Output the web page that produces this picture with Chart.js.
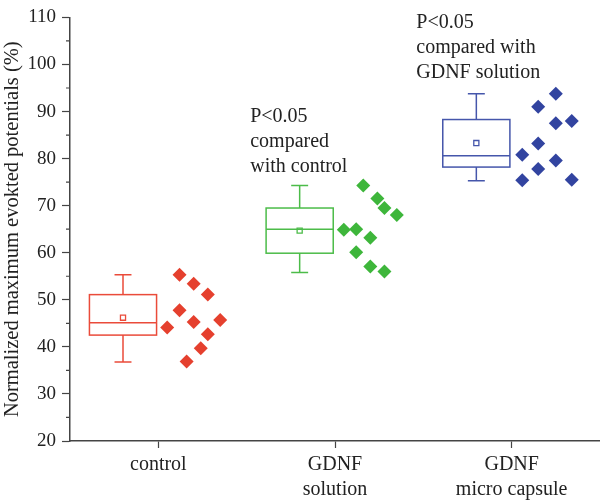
<!DOCTYPE html>
<html>
<head>
<meta charset="utf-8">
<script src="https://cdn.jsdelivr.net/npm/chart.js@4.4.0/dist/chart.umd.min.js"></script>
<style>
  html, body { margin: 0; padding: 0; background: #fff; }
  #wrap { width: 600px; height: 502px; }
</style>
</head>
<body>
<div id="wrap"><canvas id="chart"></canvas></div>
<script>
// group names (x axis)
const groupLabels = [['control'], ['GDNF', 'solution'], ['GDNF', 'micro capsule']];
const groupColors = ['#e5402e', '#3eb63b', '#3244a0'];
const boxColors = ['#ea4b3a', '#4cbc49', '#4556ab'];

// y ticks
const yMin = 20;
const yMax = 110;
const yStep = 10;

// raw points per group
const controlX = [1.12, 1.20, 1.28, 1.12, 1.35, 1.20, 1.05, 1.28, 1.24, 1.16];
const controlY = [55.3, 53.4, 51.1, 47.8, 45.7, 45.3, 44.1, 42.7, 39.7, 36.9];
const solutionX = [2.16, 2.24, 2.28, 2.35, 2.05, 2.12, 2.20, 2.12, 2.20, 2.28];
const solutionY = [74.3, 71.5, 69.5, 68.0, 64.9, 65.0, 63.2, 60.1, 57.1, 56.0];
const capsuleX = [3.25, 3.15, 3.34, 3.25, 3.15, 3.06, 3.25, 3.15, 3.06, 3.34];
const capsuleY = [93.8, 91.0, 88.0, 87.5, 83.2, 80.8, 79.6, 77.8, 75.4, 75.5];

// box stats per group
const boxPos = [0.8, 1.8, 2.8];
const boxQ1 = [42.5, 59.9, 78.2];
const boxQ3 = [51.1, 69.5, 88.3];
const boxMedian = [45.1, 65.0, 80.6];
const boxMean = [46.2, 64.7, 83.3];
const whiskerLow = [36.8, 55.8, 75.3];
const whiskerHigh = [55.3, 74.3, 93.8];

// significance notes
const noteText = [
    ['P<0.05', 'compared', 'with control'],
    ['P<0.05', 'compared with', 'GDNF solution']
];
const noteX = [1.52, 2.46];
const noteY = [88.8, 108.8];

const serif = '"Liberation Serif", "DejaVu Serif", serif';
const axisColor = '#444';
const textColor = '#222';

function toPoints(xs, ys) {
    return xs.map((x, i) => ({ x: x, y: ys[i] }));
}

const pointSets = [
    toPoints(controlX, controlY),
    toPoints(solutionX, solutionY),
    toPoints(capsuleX, capsuleY)
];

const datasets = pointSets.map((pts, i) => ({
    data: pts,
    pointStyle: 'rectRot',
    pointRadius: 7,
    pointBorderWidth: 0,
    backgroundColor: groupColors[i],
    borderColor: groupColors[i]
}));

// mean markers (hollow squares)
boxPos.forEach((x, i) => {
    datasets.push({
        data: [{ x: x, y: boxMean[i] }],
        pointStyle: 'rect',
        pointRadius: 3.6,
        pointBorderWidth: 1.3,
        backgroundColor: 'rgba(255,255,255,0)',
        borderColor: boxColors[i]
    });
});

// boxes, whiskers, minor ticks and notes
const boxPlugin = {
    id: 'boxPlugin',
    beforeDatasetsDraw(chart) {
        const ctx = chart.ctx;
        const xs = chart.scales.x;
        const ys = chart.scales.y;
        ctx.save();
        ctx.lineWidth = 1.5;
        boxPos.forEach((pos, i) => {
            ctx.strokeStyle = boxColors[i];
            const l = xs.getPixelForValue(pos - 0.19);
            const r = xs.getPixelForValue(pos + 0.19);
            const c = xs.getPixelForValue(pos);
            const cl = xs.getPixelForValue(pos - 0.048);
            const cr = xs.getPixelForValue(pos + 0.048);
            const top = ys.getPixelForValue(boxQ3[i]);
            const bot = ys.getPixelForValue(boxQ1[i]);
            const med = ys.getPixelForValue(boxMedian[i]);
            const wl = ys.getPixelForValue(whiskerLow[i]);
            const wh = ys.getPixelForValue(whiskerHigh[i]);
            ctx.strokeRect(l, top, r - l, bot - top);
            ctx.beginPath();
            ctx.moveTo(l, med); ctx.lineTo(r, med);
            ctx.moveTo(c, top); ctx.lineTo(c, wh);
            ctx.moveTo(c, bot); ctx.lineTo(c, wl);
            ctx.moveTo(cl, wh); ctx.lineTo(cr, wh);
            ctx.moveTo(cl, wl); ctx.lineTo(cr, wl);
            ctx.stroke();
        });
        ctx.restore();
    },
    afterDraw(chart) {
        const ctx = chart.ctx;
        const xs = chart.scales.x;
        const ys = chart.scales.y;
        ctx.save();
        // minor y ticks
        ctx.strokeStyle = axisColor;
        ctx.lineWidth = 1.2;
        ctx.beginPath();
        for (let v = yMin + yStep / 2; v < yMax; v += yStep) {
            const py = ys.getPixelForValue(v);
            ctx.moveTo(chart.chartArea.left - 4, py);
            ctx.lineTo(chart.chartArea.left, py);
        }
        ctx.stroke();
        // notes
        ctx.fillStyle = textColor;
        ctx.font = '20px ' + serif;
        ctx.textAlign = 'left';
        ctx.textBaseline = 'middle';
        noteText.forEach((lines, i) => {
            const px = xs.getPixelForValue(noteX[i]);
            const py = ys.getPixelForValue(noteY[i]);
            lines.forEach((t, k) => ctx.fillText(t, px, py + k * 25));
        });
        ctx.restore();
    }
};

new Chart(document.getElementById('chart'), {
    type: 'scatter',
    data: { datasets: datasets },
    plugins: [boxPlugin],
    options: {
        responsive: true,
        maintainAspectRatio: false,
        animation: false,
        layout: { autoPadding: false, padding: { top: 14, right: 0, left: 0, bottom: 0 } },
        plugins: {
            legend: { display: false },
            tooltip: { enabled: false }
        },
        scales: {
            x: {
                type: 'linear',
                min: 0.5,
                max: 3.5,
                afterBuildTicks: (scale) => {
                    scale.ticks = groupLabels.map((g, i) => ({ value: i + 1 }));
                },
                afterFit: (scale) => {
                    scale.height = 61;
                    scale.paddingLeft = 0;
                    scale.paddingRight = 0;
                },
                border: { display: true, color: axisColor, width: 1.5 },
                grid: { drawOnChartArea: false, tickLength: 7, color: axisColor, tickWidth: 1.2 },
                ticks: {
                    padding: 4,
                    color: textColor,
                    font: { family: serif, size: 20, lineHeight: 1.25 },
                    maxRotation: 0,
                    autoSkip: false,
                    callback: (v) => groupLabels[v - 1] || ''
                }
            },
            y: {
                min: yMin,
                max: yMax,
                afterFit: (scale) => { scale.width = 70; },
                border: { display: true, color: axisColor, width: 1.5 },
                grid: { drawOnChartArea: false, tickLength: 8, color: axisColor, tickWidth: 1.2 },
                ticks: {
                    stepSize: yStep,
                    padding: 6,
                    color: textColor,
                    font: { family: serif, size: 19 }
                },
                title: {
                    display: true,
                    text: 'Normalized maximum evokted potentials (%)',
                    color: textColor,
                    font: { family: serif, size: 20.5 },
                    padding: { top: 0, bottom: 0 }
                }
            }
        }
    }
});
</script>
</body>
</html>
